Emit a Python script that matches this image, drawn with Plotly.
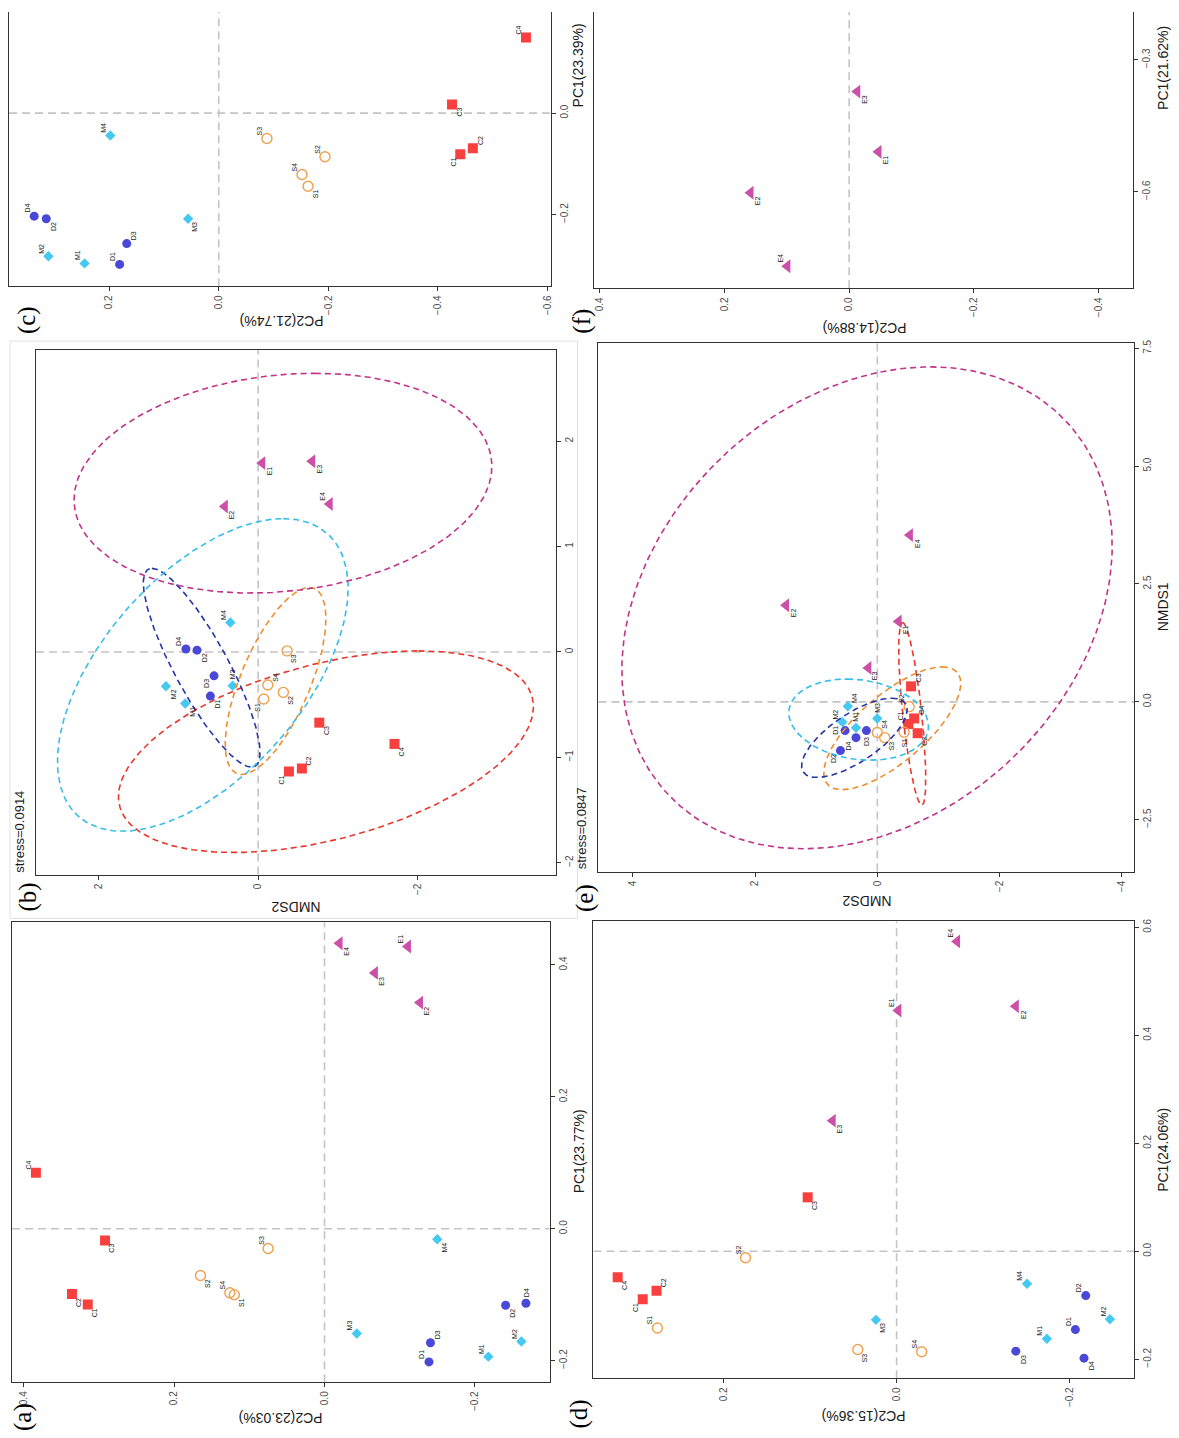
import numpy as np
import plotly.graph_objects as go

# ====================== DATA ======================
# Each sample: (PC1 / NMDS1 value, PC2 / NMDS2 value); replicate order 1..4
# ---- (a) PCA ----
a_C_pc1 = [-0.115, -0.099, -0.018, 0.085]
a_C_pc2 = [0.315, 0.336, 0.292, 0.384]
a_S_pc1 = [-0.100, -0.071, -0.030, -0.097]
a_S_pc2 = [0.120, 0.165, 0.075, 0.126]
a_D_pc1 = [-0.202, -0.116, -0.173, -0.113]
a_D_pc2 = [-0.139, -0.241, -0.141, -0.268]
a_M_pc1 = [-0.194, -0.171, -0.159, -0.016]
a_M_pc2 = [-0.218, -0.262, -0.043, -0.150]
a_E_pc1 = [0.428, 0.343, 0.388, 0.433]
a_E_pc2 = [-0.111, -0.127, -0.067, -0.020]

# ---- (b) NMDS ----
b_C_n1 = [-1.135, -1.107, -0.671, -0.873]
b_C_n2 = [-0.385, -0.547, -0.765, -1.706]
b_S_n1 = [-0.447, -0.384, 0.010, -0.314]
b_S_n2 = [-0.070, -0.315, -0.362, -0.121]
b_D_n1 = [-0.419, 0.017, -0.227, 0.028]
b_D_n2 = [0.598, 0.765, 0.552, 0.904]
b_M_n1 = [-0.489, -0.325, -0.321, 0.279]
b_M_n2 = [0.913, 1.154, 0.320, 0.348]
b_E_n1 = [1.792, 1.380, 1.810, 1.404]
b_E_n2 = [-0.051, 0.417, -0.677, -0.895]
# ellipses: [NMDS1 centre, NMDS2 centre, NMDS1 half-range, NMDS2 half-range, correlation]
b_ell_C = [-0.947, -0.848, 0.957, 2.596, -0.446]
b_ell_S = [-0.276, -0.218, 0.887, 0.630, -0.670]
b_ell_D = [-0.150, 0.707, 0.943, 0.730, 0.853]
b_ell_M = [-0.218, 0.693, 1.483, 1.819, -0.554]
b_ell_E = [1.602, -0.310, 1.043, 2.614, -0.153]

# ---- (c) PCA without E ----
c_C_pc1 = [-0.081, -0.069, 0.017, 0.149]
c_C_pc2 = [-0.441, -0.464, -0.426, -0.561]
c_S_pc1 = [-0.144, -0.086, -0.050, -0.121]
c_S_pc2 = [-0.163, -0.194, -0.088, -0.152]
c_D_pc1 = [-0.298, -0.208, -0.257, -0.203]
c_D_pc2 = [0.181, 0.315, 0.168, 0.337]
c_M_pc1 = [-0.296, -0.282, -0.208, -0.044]
c_M_pc2 = [0.245, 0.311, 0.056, 0.198]

# ---- (d) PCA ----
d_C_pc1 = [-0.089, -0.073, 0.100, -0.048]
d_C_pc2 = [0.294, 0.278, 0.103, 0.323]
d_S_pc1 = [-0.142, -0.012, -0.182, -0.186]
d_S_pc2 = [0.277, 0.175, 0.045, -0.029]
d_D_pc1 = [-0.145, -0.082, -0.185, -0.198]
d_D_pc2 = [-0.207, -0.219, -0.138, -0.217]
d_M_pc1 = [-0.162, -0.126, -0.127, -0.060]
d_M_pc2 = [-0.174, -0.247, 0.024, -0.151]
d_E_pc1 = [0.446, 0.454, 0.242, 0.574]
d_E_pc2 = [-0.002, -0.138, 0.074, -0.070]

# ---- (e) NMDS ----
e_C_n1 = [-0.469, -0.665, 0.329, -0.352]
e_C_n2 = [-0.508, -0.660, -0.552, -0.603]
e_S_n1 = [-0.642, -0.102, -0.759, -0.649]
e_S_n2 = [-0.438, -0.521, -0.121, 0.000]
e_D_n1 = [-0.610, -1.033, -0.610, -0.759]
e_D_n2 = [0.527, 0.603, 0.178, 0.349]
e_M_n1 = [-0.548, -0.430, -0.352, -0.094]
e_M_n2 = [0.349, 0.571, 0.000, 0.483]
e_E_n1 = [1.706, 2.050, 0.720, 3.537]
e_E_n2 = [-0.349, 1.492, 0.146, -0.533]
e_ell_C = [-0.254, -0.571, 1.937, 0.222, 0.710]
e_ell_S = [-0.560, -0.244, 1.303, 1.121, -0.728]
e_ell_D = [-0.763, 0.375, 0.841, 0.863, -0.707]
e_ell_M = [-0.376, 0.305, 0.861, 1.143, 0.166]
e_ell_E = [1.995, 0.168, 5.110, 4.010, -0.259]

# ---- (f) PCA of E only ----
f_E_pc1 = [-0.509, -0.602, -0.372, -0.769]
f_E_pc2 = [-0.047, 0.158, -0.013, 0.099]

# axis titles / texts
titles = {
    "a": ("PC1(23.77%)", "PC2(23.03%)"),
    "b": ("NMDS1", "NMDS2"),
    "c": ("PC1(23.39%)", "PC2(21.74%)"),
    "d": ("PC1(24.06%)", "PC2(15.36%)"),
    "e": ("NMDS1", "NMDS2"),
    "f": ("PC1(21.62%)", "PC2(14.88%)"),
}
stress_b = "stress=0.0914"
stress_e = "stress=0.0847"

# ====================== LAYOUT / STYLE ======================
PAGE_W, PAGE_H = 1179, 1438
M0 = 8                      # default body margin of the page
W, H = PAGE_W - M0, PAGE_H - M0
FONT = "Liberation Sans"


def fx(x):   # page pixel -> paper fraction
    return (x - M0) / W


def fy(y):
    return 1 - (y - M0) / H


# label placement codes (in the rotated view) and pixel shifts
OFF = {"ul": (-7, 8), "dr": (7, -8), "ur": (7, 8), "dl": (-7, -8),
       "u": (0, 11), "d": (0, -11), "l": (-9, 0), "r": (9, 0)}
LAB = {
    "a": {"C": ["dr", "dr", "dr", "ul"], "S": ["dr", "dr", "ul", "ul"],
          "D": ["ul", "dr", "ur", "u"], "M": ["ul", "ul", "ul", "dr"],
          "E": ["ul", "dr", "dr", "dr"]},
    "b": {"C": ["dl", "ur", "dr", "dr"], "S": ["dl", "dr", "dr", "ur"],
          "D": ["dr", "dr", "dl", "ul"], "M": ["dr", "dr", "u", "ul"],
          "E": ["dr", "dr", "dr", "ul"]},
    "c": {"C": ["dl", "ur", "dr", "ul"], "S": ["dr", "ul", "ul", "ul"],
          "D": ["ul", "dr", "ur", "ul"], "M": ["ul", "ul", "dr", "ul"]},
    "d": {"C": ["dl", "ur", "dr", "dr"], "S": ["ul", "ul", "dr", "ul"],
          "D": ["ul", "ul", "dr", "dr"], "M": ["ul", "ul", "dr", "ul"],
          "E": ["ul", "dr", "dr", "ul"]},
    "e": {"C": ["ul", "dr", "ur", "ur"], "S": ["d", "ul", "dr", "ur"],
          "D": ["l", "dl", "d", "dl"], "M": ["u", "ul", "u", "ur"],
          "E": ["dr", "dr", "dr", "dr"]},
    "f": {"E": ["dr", "dr", "dr", "ul"]},
}

# panel boxes in page pixels (left, right, top, bottom) and axis limits at those edges
BOX = {"a": (11, 550, 921, 1382), "b": (35, 556, 347, 873), "c": (8, 551, 0, 283),
       "d": (594, 1136, 920, 1378), "e": (599, 1136, 340, 870), "f": (595, 1135, 0, 285)}
XR = {"a": [0.4158, -0.2995], "b": [2.781, -3.722], "c": [0.383, -0.606],
      "d": [0.351, -0.275], "e": [4.56, -4.20], "f": [0.408, -0.455]}
YR = {"a": [-0.2327, 0.4645], "b": [-2.113, 2.865], "c": [-0.341, 0.215],
      "d": [-0.235, 0.611], "e": [-3.60, 7.61], "f": [-0.819, -0.173]}
XT = {"a": ([0.4, 0.2, 0.0, -0.2], ".1f"), "b": ([2, 0, -2], "d"),
      "c": ([0.2, 0.0, -0.2, -0.4, -0.6], ".1f"), "d": ([0.2, 0.0, -0.2], ".1f"),
      "e": ([4, 2, 0, -2, -4], "d"), "f": ([0.4, 0.2, 0.0, -0.2, -0.4], ".1f")}
YT = {"a": ([-0.2, 0.0, 0.2, 0.4], ".1f"), "b": ([-2, -1, 0, 1, 2], "d"),
      "c": ([-0.2, 0.0, 0.2], ".1f"), "d": ([-0.2, 0.0, 0.2, 0.4, 0.6], ".1f"),
      "e": ([-2.5, 0.0, 2.5, 5.0, 7.5], ".1f"), "f": ([-0.6, -0.3], ".1f")}
AX = {"a": "", "b": "2", "c": "3", "d": "4", "e": "5", "f": "6"}

STYLE = {
    "C": dict(symbol="square", color="#F8403F", size=10),
    "S": dict(symbol="circle-open", color="#F2A04C", size=10, line=dict(width=1.4, color="#F2A04C")),
    "D": dict(symbol="circle", color="#4A48D6", size=9),
    "M": dict(symbol="diamond", color="#45C9F0", size=8),
    "E": dict(symbol="triangle-left", color="#CD50A8", size=12),
}
ELL_COL = {"C": "#E8382E", "S": "#EE8E2C", "D": "#2434AA", "M": "#35BDEA", "E": "#C0348A"}

G = globals()
panel_groups = {"a": "CSDME", "b": "CSDME", "c": "CSDM", "d": "CSDME", "e": "CSDME", "f": "E"}


def series(p, g):
    if p in ("b", "e"):
        return G[f"{p}_{g}_n1"], G[f"{p}_{g}_n2"]
    return G[f"{p}_{g}_pc1"], G[f"{p}_{g}_pc2"]


def ellipse(par):
    c1, c2, r1, r2, rho = par
    t = np.linspace(0, 2 * np.pi, 241)
    n1 = c1 + r1 * np.cos(t)
    n2 = c2 + r2 * np.cos(t + np.arccos(rho))
    return n2, n1


fig = go.Figure()
annotations = []
shapes = []
layout = {}

for p in "abcdef":
    ax = AX[p]
    xa, ya = "x" + ax, "y" + ax
    L, R, T, B = BOX[p]
    y0, y1 = YR[p]
    if T < M0:   # panel runs off the top of the page: clip range at the visible edge
        y1 = y1 - (y1 - y0) * (M0 - T) / (B - T)
        T = M0
    x0, x1 = XR[p]
    if L < M0:
        x0 = x0 + (x1 - x0) * (M0 - L) / (R - L)
        L = M0
    # points
    for g in panel_groups[p]:
        v1, v2 = series(p, g)
        fig.add_trace(go.Scatter(x=v2, y=v1, mode="markers", xaxis=xa, yaxis=ya,
                                 marker=STYLE[g], showlegend=False, hoverinfo="skip"))
        for i in range(len(v1)):
            dx, dy = OFF[LAB[p][g][i]]
            annotations.append(dict(x=v2[i], y=v1[i], xref=xa, yref=ya, text=f"{g}{i + 1}",
                                    showarrow=False, textangle=-90, xshift=dx, yshift=dy,
                                    font=dict(size=7, color="#222222", family=FONT)))
    # ellipses
    if p in ("b", "e"):
        for g in "CSDME":
            ex, ey = ellipse(G[f"{p}_ell_{g}"])
            fig.add_trace(go.Scatter(x=ex, y=ey, mode="lines", xaxis=xa, yaxis=ya,
                                     line=dict(color=ELL_COL[g], width=1.6, dash="6px,4px"),
                                     showlegend=False, hoverinfo="skip"))
    # zero lines
    shapes.append(dict(type="line", xref=xa, yref=ya + " domain", x0=0, x1=0, y0=0, y1=1,
                       line=dict(color="#C4C4C4", width=1.6, dash="8px,5px"), layer="below"))
    if y0 < 0 < y1:
        shapes.append(dict(type="line", xref=xa + " domain", yref=ya, x0=0, x1=1, y0=0, y1=0,
                           line=dict(color="#C4C4C4", width=1.6, dash="8px,5px"), layer="below"))
    top_line = BOX[p][2] >= M0
    layout["xaxis" + ax] = dict(domain=[fx(L), fx(R)], range=[x0, x1], anchor=ya,
                                tickvals=XT[p][0], tickformat=XT[p][1], tickangle=-90,
                                ticks="outside", ticklen=4, tickwidth=1.2, tickcolor="#333333",
                                showline=True, linecolor="#333333", linewidth=1.3,
                                mirror=top_line, showgrid=False, zeroline=False,
                                tickfont=dict(size=10, color="#4D4D4D", family=FONT))
    layout["yaxis" + ax] = dict(domain=[fy(B), fy(T)], range=[y0, y1], anchor=xa,
                                side="right", tickvals=YT[p][0], tickformat=YT[p][1],
                                tickangle=-90, ticks="outside", ticklen=4, tickwidth=1.2,
                                tickcolor="#333333", showline=True, linecolor="#333333",
                                linewidth=1.3, mirror=True, showgrid=False, zeroline=False,
                                tickfont=dict(size=10, color="#4D4D4D", family=FONT))


def ptext(text, x, y, angle, size, family=FONT, color="#1A1A1A"):
    annotations.append(dict(x=fx(x), y=fy(y), xref="paper", yref="paper", text=text,
                            showarrow=False, textangle=angle, xanchor="center", yanchor="middle",
                            font=dict(size=size, color=color, family=family)))


# axis titles (x-title of the original sits on the right, y-title at the bottom upside down)
title_pos = {"a": ((579, 1151), (280, 1418)), "b": (None, (296, 905)),
             "c": ((578, 62), (281, 318)), "d": ((1165, 1149), (865, 1416)),
             "e": ((1165, 605), (868, 900)), "f": ((1165, 64), (866, 325))}
for p, (rp, bp) in title_pos.items():
    t1, t2 = titles[p]
    if rp is not None:
        ptext(t1, rp[0], rp[1], -90, 14)
    ptext(t2, bp[0], bp[1], 180, 14)

# panel letters
for txt, x, y in [("(a)", 22, 1417), ("(b)", 27, 895), ("(c)", 26, 317),
                  ("(d)", 580, 1414), ("(e)", 585, 897), ("(f)", 583, 318)]:
    ptext(txt, x, y, -90, 25, family="Liberation Serif", color="#000000")

ptext(stress_b, 19, 830, -90, 13)
ptext(stress_e, 582, 827, -90, 13)

# faint frame around panel (b)
shapes.append(dict(type="rect", xref="paper", yref="paper", x0=fx(9), x1=fx(578),
                   y0=fy(917), y1=fy(338), line=dict(color="#E2E2E2", width=1)))

fig.update_layout(width=W, height=H, autosize=False, margin=dict(l=0, r=0, t=0, b=0),
                  paper_bgcolor="white", plot_bgcolor="white",
                  annotations=annotations, shapes=shapes, **layout)

fig.write_html("out.html")
